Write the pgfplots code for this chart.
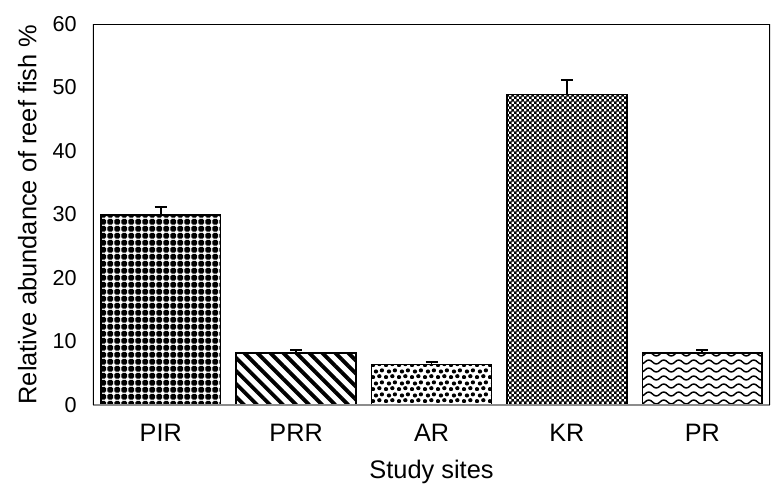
\documentclass[border=0pt]{standalone}
\usepackage{fontspec}
\setmainfont{Liberation Sans}
\usepackage{pgfplots}
\pgfplotsset{compat=1.18}
\usetikzlibrary{patterns,patterns.meta}

% PIR: black plus shapes (dark)
\pgfdeclarepatternformonly{plusgrid}{\pgfpointorigin}{\pgfqpoint{3.6pt}{3.6pt}}{\pgfqpoint{3.6pt}{3.6pt}}{%
  \pgfpathrectangle{\pgfqpoint{0.75pt}{0.15pt}}{\pgfqpoint{2.1pt}{3.3pt}}%
  \pgfpathrectangle{\pgfqpoint{0.15pt}{0.75pt}}{\pgfqpoint{3.3pt}{2.1pt}}%
  \pgfusepath{fill}}
% KR: fine checkerboard, black dominant
\pgfdeclarepatternformonly{finechecks}{\pgfpointorigin}{\pgfqpoint{2.6pt}{2.6pt}}{\pgfqpoint{2.6pt}{2.6pt}}{%
  \pgfpathrectangle{\pgfqpoint{0pt}{0pt}}{\pgfqpoint{1.45pt}{1.45pt}}%
  \pgfpathrectangle{\pgfqpoint{1.3pt}{1.3pt}}{\pgfqpoint{1.45pt}{1.45pt}}%
  \pgfusepath{fill}}
% AR: scattered dots
\pgfdeclarepatternformonly{scatdots}{\pgfpointorigin}{\pgfqpoint{6.4pt}{6pt}}{\pgfqpoint{6.4pt}{6pt}}{%
  \pgfpathcircle{\pgfqpoint{1pt}{1pt}}{1.1pt}%
  \pgfpathcircle{\pgfqpoint{4.2pt}{1.5pt}}{1.1pt}%
  \pgfpathcircle{\pgfqpoint{2.5pt}{4pt}}{1.1pt}%
  \pgfpathcircle{\pgfqpoint{5.5pt}{4.6pt}}{1.1pt}%
  \pgfusepath{fill}}
% PR: waves
\pgfdeclarepatternformonly{wavy}{\pgfqpoint{-0.5pt}{0pt}}{\pgfqpoint{8pt}{4pt}}{\pgfqpoint{7.5pt}{4pt}}{%
  \pgfsetlinewidth{0.75pt}%
  \pgfpathmoveto{\pgfqpoint{0pt}{2pt}}%
  \pgfpathcurveto{\pgfqpoint{1.2pt}{3.3pt}}{\pgfqpoint{2.55pt}{3.3pt}}{\pgfqpoint{3.75pt}{2pt}}%
  \pgfpathcurveto{\pgfqpoint{4.95pt}{0.7pt}}{\pgfqpoint{6.3pt}{0.7pt}}{\pgfqpoint{7.5pt}{2pt}}%
  \pgfusepath{stroke}}

\begin{document}
\begin{tikzpicture}
\begin{axis}[
  name=ax, at={(0,0)}, anchor=south west,
  scale only axis, width=338.5pt, height=190.5pt,
  xmin=-0.5, xmax=4.5, ymin=0, ymax=60,
  ytick={0,10,...,60},
  xtick={0,1,2,3,4},
  xticklabels={PIR,PRR,AR,KR,PR},
  major tick length=0pt,
  axis line style={draw=none},
  /pgf/number format/assume math mode=true,
  yticklabel style={font=\fontsize{10.8pt}{12pt}\selectfont, anchor=east, inner sep=0pt, xshift=-8pt},
  xticklabel style={font=\fontsize{12.6pt}{14pt}\selectfont, anchor=base, inner sep=0pt, yshift=-18.25pt},
  every axis x label/.style={at={(axis description cs:0.5,0)}, anchor=base, yshift=-36.5pt, font=\fontsize{12.7pt}{14pt}\selectfont},
  every axis y label/.style={at={([xshift=-28.25pt]axis description cs:0,0.5)}, rotate=90, anchor=base, font=\fontsize{12.7pt}{14pt}\selectfont},
  xlabel={Study sites},
  ylabel={Relative abundance of reef fish \%},
  ybar, bar width=0.886, bar shift=0pt,
  error bars/y dir=plus, error bars/y explicit,
  error bars/error bar style={line width=0.9pt, black},
  error bars/error mark options={line width=0.9pt, black, mark size=3pt, rotate=90},
]
\addplot[draw=black, line width=0.8pt, pattern=plusgrid, pattern color=black]
  coordinates {(0,29.9) +- (0,1.3)};
\addplot[draw=black, line width=0.8pt, pattern={Lines[angle=-45,distance=4.6pt,line width=1.9pt]}, pattern color=black]
  coordinates {(1,8.2) +- (0,0.4)};
\addplot[draw=black, line width=0.8pt, pattern=scatdots, pattern color=black]
  coordinates {(2,6.4) +- (0,0.4)};
\addplot[draw=black, line width=0.8pt, pattern=finechecks, pattern color=black]
  coordinates {(3,48.9) +- (0,2.3)};
\addplot[draw=black, line width=0.8pt, pattern=wavy, pattern color=black]
  coordinates {(4,8.2) +- (0,0.4)};
\draw[black!45, line width=0.9pt] (rel axis cs:0,0) -- (rel axis cs:1,0);
\draw[black, line width=0.8pt] (rel axis cs:0,0) -- (rel axis cs:0,1) -- (rel axis cs:1,1) -- (rel axis cs:1,0);
\end{axis}
\pgfresetboundingbox
\path ([shift={(-46.5pt,-40.5pt)}]ax.south west) rectangle ([shift={(0.5pt,12pt)}]ax.north east);
\end{tikzpicture}
\end{document}
